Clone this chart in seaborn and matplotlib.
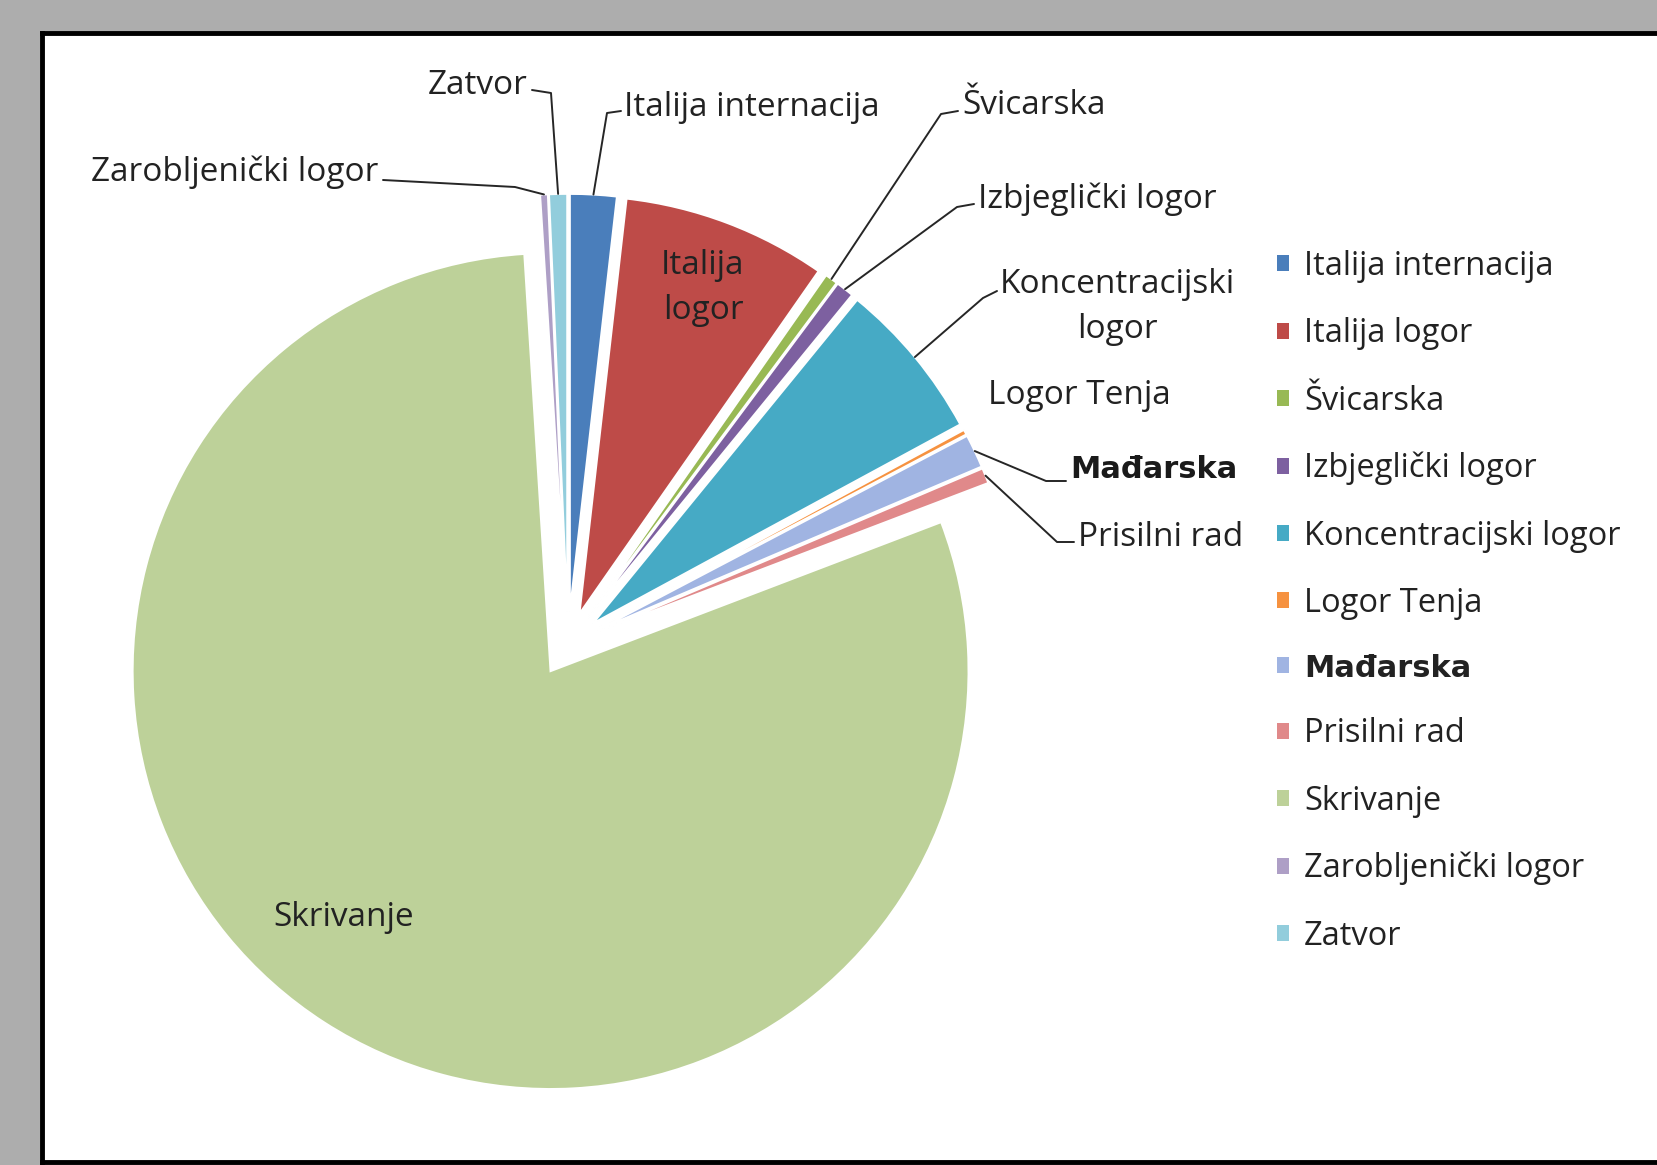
import matplotlib.pyplot as plt
import seaborn as sns
import numpy as np

# data (shares in %)
categories = ['Italija internacija', 'Italija logor', 'Švicarska', 'Izbjeglički logor',
              'Koncentracijski logor', 'Logor Tenja', 'Mađarska', 'Prisilni rad',
              'Skrivanje', 'Zarobljenički logor', 'Zatvor']
shares = [1.8, 7.9, 0.5, 0.7, 6.2, 0.2, 1.3, 0.6, 79.8, 0.3, 0.7]
slice_colors = ['#4A7EBB', '#BE4B48', '#98B954', '#7D60A0', '#46AAC5', '#F69240',
                '#A0B4E2', '#E0898A', '#BDD199', '#AE9FC6', '#92CDDC']

sns.set_theme(style='white')
plt.rcParams['font.family'] = ['Open Sans', 'DejaVu Sans']

W, H = 1658, 1165
CX, CY, R = 568, 644, 418   # pie centre / radius in pixels

def px(x, y):
    return ((x - CX) / R, (CY - y) / R)

fig = plt.figure(figsize=(W / 100, H / 100), dpi=100)
fig.patch.set_facecolor('#adadad')

# white chart area with black frame
panel = fig.add_axes([42 / W, 3 / H, 1.0, (1162 - 33) / H])
panel.set_facecolor('white')
panel.set_xticks([])
panel.set_yticks([])
for s in panel.spines.values():
    s.set_color('black')
    s.set_linewidth(3.5)

ax = fig.add_axes([0, 0, 1, 1])
palette = sns.color_palette(slice_colors)
wedges, _ = ax.pie(shares, colors=palette, startangle=90, counterclock=False,
                   explode=[0.077] * len(shares),
                   wedgeprops=dict(edgecolor='white', linewidth=1.5))
ax.set_xlim(-CX / R, (W - CX) / R)
ax.set_ylim((CY - H) / R, CY / R)
ax.set_aspect('auto')
ax.set_axis_off()

txt_col = '#222222'
fs = 24

# labels outside with leader lines: (index, text, text px, ha, [start, elbow] px)
outside = [
    (10, 'Zatvor', (528, 85), 'right', [(532, 90), (551, 93)]),
    (0, 'Italija internacija', (624, 108), 'left', [(621, 111), (607, 113)]),
    (9, 'Zarobljenički logor', (378, 172), 'right', [(383, 180), (515, 187)]),
    (2, 'Švicarska', (962, 106), 'left', [(958, 111), (941, 114)]),
    (3, 'Izbjeglički logor', (978, 199), 'left', [(974, 204), (957, 207)]),
    (4, 'Koncentracijski\nlogor', (1117, 307), 'center', [(997, 291), (983, 298)]),
    (6, 'Mađarska', (1070, 470), 'left', [(1066, 481), (1046, 481)]),
    (7, 'Prisilni rad', (1078, 537), 'left', [(1074, 542), (1057, 542)]),
]

for i, label, pos, ha, pts in outside:
    w = wedges[i]
    mid = np.deg2rad((w.theta1 + w.theta2) / 2)
    anchor = (w.center[0] + w.r * np.cos(mid), w.center[1] + w.r * np.sin(mid))
    line = [px(*p) for p in pts] + [anchor]
    ax.plot([p[0] for p in line], [p[1] for p in line], color='#262626', lw=1.4)
    if label == 'Mađarska':
        ax.text(*px(*pos), label, ha=ha, va='center', fontsize=22, color='#1a1a1a',
                family=['DejaVu Sans'], fontweight='bold')
    else:
        ax.text(*px(*pos), label, ha=ha, va='center', fontsize=fs, color=txt_col,
                linespacing=1.45)

ax.text(*px(1079, 396), 'Logor Tenja', ha='center', va='center', fontsize=fs, color=txt_col)
ax.text(*px(703, 288), 'Italija\nlogor', ha='center', va='center', fontsize=fs,
        color=txt_col, linespacing=1.45)
ax.text(*px(344, 917), 'Skrivanje', ha='center', va='center', fontsize=fs, color=txt_col)

leg = fig.legend(wedges, categories, loc='upper left', bbox_to_anchor=(1277 / W, 1 - 250 / H),
                 frameon=False, fontsize=23.5, handlelength=0.38, handleheight=0.38,
                 handletextpad=0.45, labelspacing=1.05, borderpad=0, borderaxespad=0)
for t in leg.get_texts():
    t.set_color(txt_col)
    if t.get_text() == 'Mađarska':
        t.set_fontfamily(['DejaVu Sans'])
        t.set_fontweight('bold')
        t.set_fontsize(22)
for h in leg.legend_handles:
    h.set_edgecolor('none')

fig.savefig('out.png', dpi=100, facecolor=fig.get_facecolor())
